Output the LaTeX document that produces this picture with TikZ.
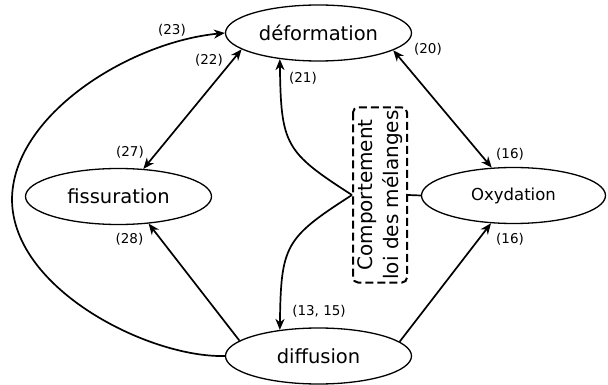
\documentclass[tikz,border=0pt]{standalone}
\usepackage{fontspec}
\setmainfont{DejaVu Sans}
\usetikzlibrary{shapes.geometric,arrows.meta}
\begin{document}
\begin{tikzpicture}[x=1pt,y=-1pt,
  ent/.style={draw, ellipse, line width=1.3pt, minimum width=186pt, minimum height=56pt, inner sep=0pt, font=\fontsize{19.5}{23}\selectfont},
  lab/.style={font=\fontsize{13.5}{16}\selectfont, inner sep=0pt},
  link/.style={line width=1.7pt},
  tip/.style={-{Stealth[length=11pt,width=9pt,inset=3.5pt]}},
  both/.style={{Stealth[length=11pt,width=9pt,inset=3.5pt]}-{Stealth[length=11pt,width=9pt,inset=3.5pt]}},
  mixbox/.style={draw, rotate=90, rounded corners=5pt, line width=2pt, dash pattern=on 8pt off 4pt, minimum width=175pt, minimum height=54pt, align=center, inner sep=1pt, font=\fontsize{20}{26}\selectfont}
]
\useasboundingbox (0,0) rectangle (608,385);
\node[ent] (def) at (318.5,33) {déformation};
\node[ent] (fis) at (118.5,196.5) {fissuration};
\node[ent, minimum width=184pt, font=\fontsize{16.5}{20}\selectfont] (oxy) at (513.5,195.5) {Oxydation};
\node[ent] (dif) at (318.5,356) {diffusion};
\node[mixbox] (box) at (380,195) {Comportement\\loi des mélanges};
\coordinate (loop) at (12,200);

\draw[link,tip] (dif.west) .. controls (150,358) and (13,290) .. (loop) .. controls (12,115) and (130,42) .. (def.west);
\draw[link,both] (def.192) -- (fis.48);
\draw[link,tip] (dif.169) -- (fis.318);
\draw[link,both] (def.347.6) -- (oxy.128.3);
\draw[link,tip] (dif.10.3) -- (oxy.231);
\draw[link,tip] (box.north) .. controls (285,152) and (281,145) .. (def.214);
\draw[link,tip] (box.north) .. controls (285,238) and (281,245) .. (dif.146);
\draw[link] (box.south) -- (oxy.west);

\node[lab] (l23) at (172,30) {(23)};
\node[lab] (l22) at (209,60) {(22)};
\node[lab] (l27) at (130,152) {(27)};
\node[lab] (l28) at (129.5,239) {(28)};
\node[lab] (l21) at (303,78) {(21)};
\node[lab] (l1315) at (319,311) {(13, 15)};
\node[lab] (l20) at (428,49) {(20)};
\node[lab] (l16a) at (510,154) {(16)};
\node[lab] (l16b) at (510,239) {(16)};
\end{tikzpicture}
\end{document}
